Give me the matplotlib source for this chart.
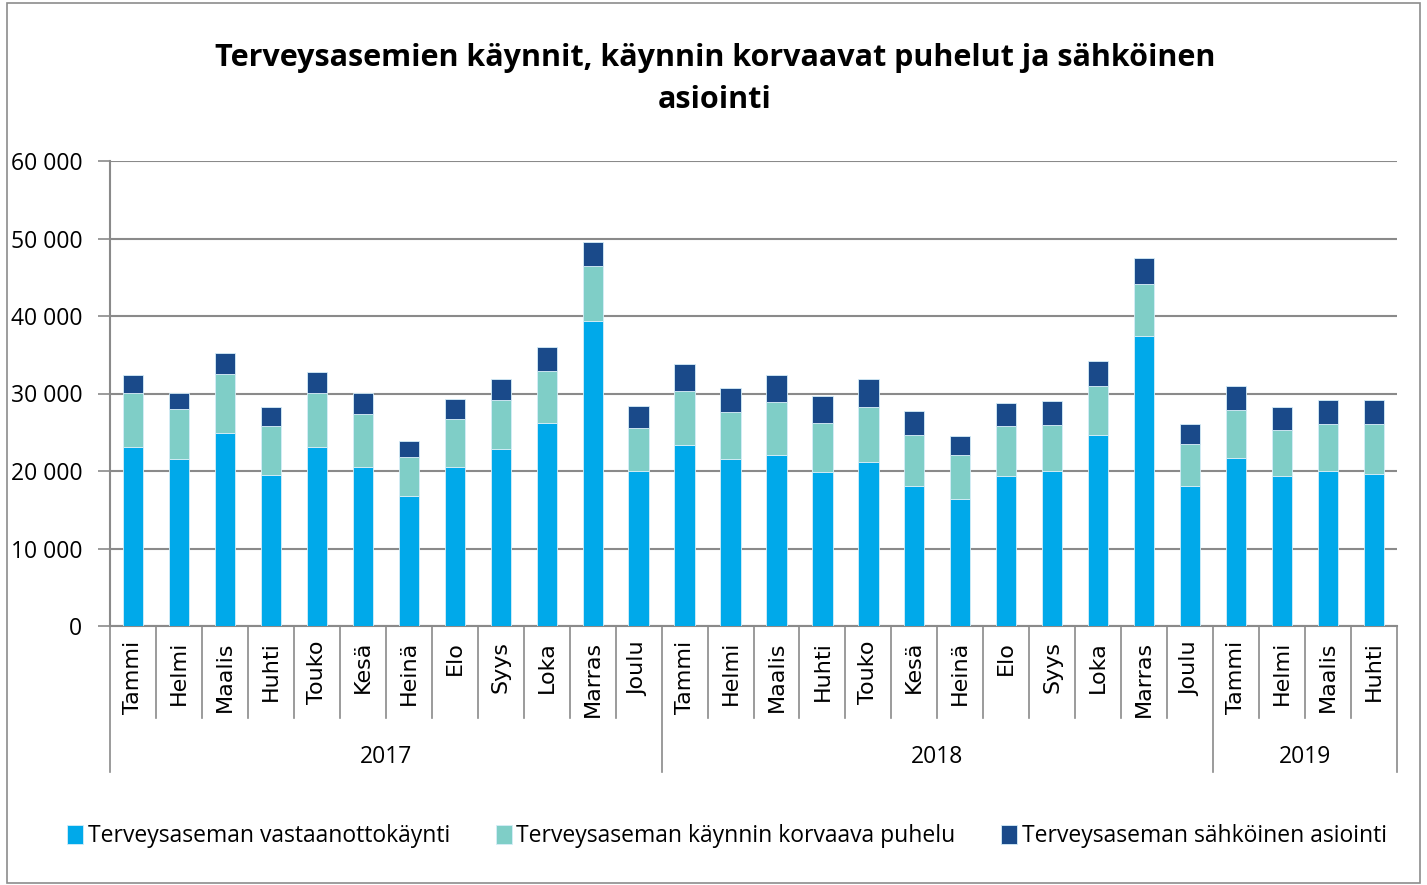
import matplotlib.pyplot as plt
from matplotlib.patches import Rectangle
from matplotlib.transforms import blended_transform_factory
import numpy as np

months = ["Tammi", "Helmi", "Maalis", "Huhti", "Touko", "Kesä", "Heinä",
          "Elo", "Syys", "Loka", "Marras", "Joulu",
          "Tammi", "Helmi", "Maalis", "Huhti", "Touko", "Kesä", "Heinä",
          "Elo", "Syys", "Loka", "Marras", "Joulu",
          "Tammi", "Helmi", "Maalis", "Huhti"]
years = ["2017", "2018", "2019"]
year_counts = [12, 12, 4]

visits = [23100, 21500, 24900, 19500, 23100, 20500, 16800, 20500, 22800, 26200, 39400, 20000,
          23400, 21500, 22100, 19900, 21200, 18100, 16400, 19400, 20000, 24600, 37400, 18100,
          21700, 19400, 20000, 19600]
calls = [6950, 6500, 7600, 6300, 7000, 6900, 5000, 6200, 6400, 6700, 7000, 5500,
         6900, 6100, 6800, 6300, 7100, 6500, 5700, 6400, 5900, 6400, 6700, 5400,
         6200, 5900, 6100, 6500]
ehealth = [2350, 2100, 2700, 2500, 2700, 2700, 2100, 2600, 2700, 3100, 3100, 2900,
           3500, 3100, 3500, 3500, 3600, 3100, 2400, 3000, 3100, 3200, 3400, 2600,
           3100, 2900, 3100, 3100]

series_names = ["Terveysaseman vastaanottokäynti",
                "Terveysaseman käynnin korvaava puhelu",
                "Terveysaseman sähköinen asiointi"]
colors = ["#00A9EA", "#7FCEC7", "#1A4A8A"]

W, H = 1427, 885
fig = plt.figure(figsize=(W / 100, H / 100), dpi=100)
fig.patches.append(Rectangle((7 / W, 2 / H), (1420 - 7) / W, (882 - 2) / H,
                             transform=fig.transFigure, fill=False,
                             edgecolor="#8c8c8c", linewidth=1.2))

ax = fig.add_axes([110 / W, 1 - 626 / H, (1397 - 110) / W, (626 - 161) / H])
x = np.arange(len(months))
v = np.array(visits)
c = np.array(calls)
e = np.array(ehealth)
bw = 0.44
ax.bar(x, v, bw, color=colors[0], edgecolor="#d6eef8", linewidth=0.6, label=series_names[0], zorder=3)
ax.bar(x, c, bw, bottom=v, color=colors[1], edgecolor="#d6eef8", linewidth=0.6, label=series_names[1], zorder=3)
ax.bar(x, e, bw, bottom=v + c, color=colors[2], edgecolor="#d6eef8", linewidth=0.6, label=series_names[2], zorder=3)

ax.set_xlim(-0.5, len(months) - 0.5)
ax.set_ylim(0, 60000)
yt = np.arange(0, 60001, 10000)
ax.set_yticks(yt)
ax.set_yticklabels([f"{t:,}".replace(",", " ") for t in yt], fontsize=16.5, family="Open Sans")
ax.yaxis.grid(True, color="#8a8a8a", linewidth=1.5, zorder=0)
ax.tick_params(axis="y", length=9, color="#8a8a8a", width=1.2, pad=11)
ax.set_xticks([])
for side in ["top", "right"]:
    ax.spines[side].set_visible(False)
ax.spines["left"].set_color("#8a8a8a")
ax.spines["left"].set_linewidth(1.5)
ax.spines["bottom"].set_color("#8a8a8a")
ax.spines["bottom"].set_linewidth(1.5)

tr = blended_transform_factory(ax.transData, ax.transAxes)
month_bottom = -(718 - 626) / 465
year_bottom = -(772 - 626) / 465
for i, m in enumerate(months):
    ax.text(i, -(641 - 626) / 465, m, transform=tr, rotation=90, ha="center", va="top",
            fontsize=16, family="DejaVu Sans")
# separators
bounds = np.arange(len(months) + 1) - 0.5
year_edges = np.concatenate([[0], np.cumsum(year_counts)]) - 0.5
for b in bounds:
    low = year_bottom if b in year_edges else month_bottom
    ax.plot([b, b], [0, low], transform=tr, color="#8a8a8a", linewidth=1.2, clip_on=False)
start = 0
for yname, n in zip(years, year_counts):
    ax.text(start + (n - 1) / 2, -(757 - 626) / 465, yname, transform=tr, ha="center", va="center",
            fontsize=16.5, family="Open Sans")
    start += n

fig.text(715 / W, 1 - 79 / H, "Terveysasemien käynnit, käynnin korvaavat puhelut ja sähköinen\nasiointi",
         ha="center", va="center", fontsize=22, fontweight="bold", family="Open Sans", linespacing=1.55)

handles, labels = ax.get_legend_handles_labels()
fig.legend(handles, labels, loc="center", bbox_to_anchor=(727 / W, 1 - 836 / H), ncol=3,
           frameon=False, prop={"family": "Open Sans", "size": 16.5}, handlelength=0.7,
           handleheight=0.9, handletextpad=0.2, columnspacing=2.0)

fig.savefig("out.png", dpi=100)
